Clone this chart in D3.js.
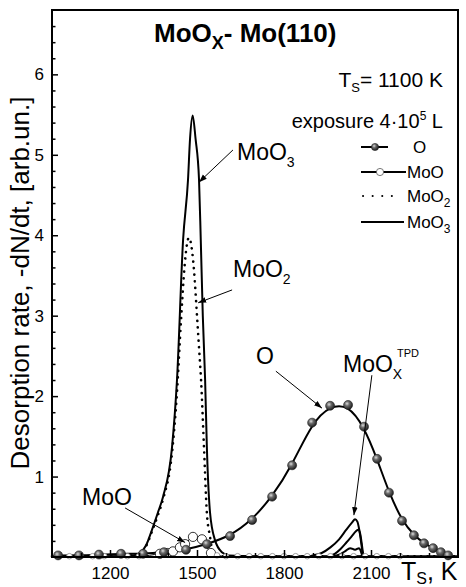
<!DOCTYPE html>
<html lang="en">
<head>
<meta charset="UTF-8">
<title>MoOx - Mo(110) desorption</title>
<script src="https://d3js.org/d3.v7.min.js"></script>
<style>
  body { margin: 0; background: #fff; }
  svg text { font-family: Arial, "Liberation Sans", sans-serif; fill: #000; }
  .tick text { font-size: 17px; }
  .tick line { stroke: #000; stroke-width: 1.5px; }
  .domain { display: none; }
</style>
</head>
<body>
<script>
// O (atomic oxygen) - markers and fit
const tempO = [1021, 1093, 1162, 1238, 1314, 1386, 1462, 1534, 1614, 1690, 1759, 1828, 1897, 1959, 2021, 2076, 2121, 2162, 2207, 2248, 2283, 2314, 2341, 2366];
const rateO = [0.02, 0.02, 0.03, 0.04, 0.04, 0.06, 0.09, 0.16, 0.26, 0.46, 0.75, 1.14, 1.67, 1.88, 1.89, 1.62, 1.22, 0.80, 0.45, 0.27, 0.17, 0.11, 0.06, 0.02];

// MoO - open circles
const tempMoO = [1060, 1100, 1140, 1180, 1260, 1300, 1372, 1397, 1417, 1441, 1459, 1486, 1517, 1548, 1569, 1600, 1640, 1680, 1720, 1760, 1800, 1840, 1880, 1920, 1960, 2000, 2040, 2080, 2120, 2160, 2200];
const rateMoO = [0.01, 0.01, 0.01, 0.01, 0.01, 0.01, 0.04, 0.05, 0.07, 0.12, 0.16, 0.25, 0.22, 0.05, 0.02, 0.01, 0.01, 0.01, 0.01, 0.01, 0.01, 0.01, 0.01, 0.01, 0.01, 0.01, 0.01, 0.01, 0.01, 0.01, 0.01];

// MoO2 - dotted
const tempMoO2 = [1000, 1200, 1280, 1303, 1325, 1345, 1365, 1383, 1414, 1431, 1445, 1458, 1466, 1472, 1480, 1490, 1500, 1507, 1514, 1524, 1534, 1545, 1555, 1570, 2400];
const rateMoO2 = [0.01, 0.01, 0.02, 0.05, 0.14, 0.32, 0.52, 0.72, 1.3, 2.05, 2.95, 3.65, 3.9, 3.97, 3.88, 3.55, 3.0, 2.6, 2.2, 1.37, 0.55, 0.25, 0.05, 0.01, 0.01];

// MoO3 - solid
const tempMoO3 = [1000, 1200, 1280, 1303, 1325, 1345, 1365, 1383, 1414, 1431, 1452, 1469, 1476, 1485, 1495, 1507, 1513, 1520, 1528, 1534, 1545, 1562, 1586, 1610, 1700, 2400];
const rateMoO3 = [0.01, 0.01, 0.02, 0.05, 0.15, 0.34, 0.55, 0.75, 1.37, 2.2, 3.94, 4.69, 5.2, 5.49, 5.2, 4.69, 3.94, 3.0, 2.2, 1.37, 0.55, 0.21, 0.06, 0.02, 0.01, 0.01];

// MoOx TPD - three curves
const tempTpd1 = [1880, 1900, 1930, 1960, 1990, 2015, 2035, 2045, 2053, 2060, 2066, 2071, 2076];
const rateTpd1 = [0.01, 0.02, 0.05, 0.12, 0.22, 0.34, 0.43, 0.47, 0.44, 0.33, 0.18, 0.05, 0.01];
const tempTpd2 = [1950, 1975, 1995, 2015, 2034, 2048, 2056, 2062, 2068, 2073, 2077];
const rateTpd2 = [0.01, 0.04, 0.10, 0.18, 0.26, 0.32, 0.34, 0.30, 0.17, 0.04, 0.01];
const tempTpd3 = [1960, 1990, 2010, 2028, 2045, 2059, 2065, 2070, 2074];
const rateTpd3 = [0.01, 0.03, 0.07, 0.11, 0.09, 0.11, 0.07, 0.02, 0.01];

const xTicks = [1200, 1500, 1800, 2100];
const yTicks = [1, 2, 3, 4, 5, 6];

const W = 466, H = 587;
const m = { left: 52, right: 8, top: 10, bottom: 30 };

const x = d3.scaleLinear().domain([1000, 2400]).range([m.left, W - m.right]);
const y = d3.scaleLinear().domain([0, 6.8]).range([H - m.bottom, m.top]);

const svg = d3.select("body").append("svg").attr("width", W).attr("height", H);

const defs = svg.append("defs");
const grad = defs.append("radialGradient").attr("id", "ball").attr("cx", "38%").attr("cy", "35%").attr("r", "65%");
grad.append("stop").attr("offset", "0%").attr("stop-color", "#dcdcdc");
grad.append("stop").attr("offset", "40%").attr("stop-color", "#6a6a6a");
grad.append("stop").attr("offset", "100%").attr("stop-color", "#1e1e1e");
defs.append("marker").attr("id", "arrow").attr("viewBox", "0 0 10 10")
  .attr("refX", 10).attr("refY", 5).attr("markerWidth", 8).attr("markerHeight", 8)
  .attr("markerUnits", "userSpaceOnUse").attr("orient", "auto")
  .append("path").attr("d", "M0,1.5 L10,5 L0,8.5 Z").attr("fill", "#000");

const zip = (a, b) => a.map((t, i) => [t, b[i]]);
const mono = d3.line().x(d => x(d[0])).y(d => y(d[1])).curve(d3.curveMonotoneX);
const basis = d3.line().x(d => x(d[0])).y(d => y(d[1])).curve(d3.curveBasis);

const plot = svg.append("g");

// curves
plot.append("path").attr("d", mono(zip(tempMoO3, rateMoO3)))
  .attr("fill", "none").attr("stroke", "#000").attr("stroke-width", 2);
plot.append("path").attr("d", mono(zip(tempMoO2, rateMoO2)))
  .attr("fill", "none").attr("stroke", "#000").attr("stroke-width", 2.6)
  .attr("stroke-dasharray", "0.1,6.5").attr("stroke-linecap", "round");
[[tempTpd1, rateTpd1], [tempTpd2, rateTpd2], [tempTpd3, rateTpd3]].forEach(([t, r]) => {
  plot.append("path").attr("d", mono(zip(t, r)))
    .attr("fill", "none").attr("stroke", "#000").attr("stroke-width", 2);
});
plot.append("path").attr("d", mono(zip(tempMoO, rateMoO)))
  .attr("fill", "none").attr("stroke", "#000").attr("stroke-width", 1);
plot.append("path").attr("d", basis(zip(tempO, rateO)))
  .attr("fill", "none").attr("stroke", "#000").attr("stroke-width", 2);

// markers
plot.selectAll("circle.moo").data(zip(tempMoO, rateMoO)).join("circle")
  .attr("class", "moo")
  .attr("cx", d => x(d[0])).attr("cy", d => y(d[1]))
  .attr("r", d => d[1] > 0.03 ? 4.6 : 2.8)
  .attr("fill", "#fff")
  .attr("stroke", d => d[1] > 0.03 ? "#000" : "#888")
  .attr("stroke-width", 0.8);
plot.selectAll("circle.o").data(zip(tempO, rateO)).join("circle")
  .attr("class", "o")
  .attr("cx", d => x(d[0])).attr("cy", d => y(d[1]))
  .attr("r", 4.5).attr("fill", "url(#ball)").attr("stroke", "#1e1e1e").attr("stroke-width", 0.6);

// axes
svg.append("g").attr("transform", `translate(${m.left},0)`)
  .call(d3.axisLeft(y).tickValues(yTicks).tickSize(-6).tickPadding(8).tickFormat(d3.format("d")));
svg.append("g").attr("transform", `translate(${m.left},0)`)
  .call(d3.axisLeft(y).tickValues(d3.range(0.2, 6.8, 0.2).filter(v => Math.abs(v - Math.round(v)) > 0.01))
    .tickSize(-3.5).tickFormat(""));
svg.append("g").attr("transform", `translate(0,${H - m.bottom})`)
  .call(d3.axisBottom(x).tickValues(xTicks).tickSize(-7).tickPadding(10).tickFormat(d3.format("d")));
svg.append("g").attr("transform", `translate(0,${H - m.bottom})`)
  .call(d3.axisBottom(x).tickValues(d3.range(1100, 2400, 100).filter(v => v % 300 !== 0))
    .tickSize(-4).tickFormat(""));

svg.append("rect").attr("x", m.left).attr("y", m.top)
  .attr("width", W - m.left - m.right).attr("height", H - m.top - m.bottom)
  .attr("fill", "none").attr("stroke", "#000").attr("stroke-width", 2);

// axis titles
svg.append("text").attr("transform", `translate(29,283) rotate(-90)`)
  .attr("text-anchor", "middle").attr("font-size", 26)
  .text("Desorption rate, -dN/dt, [arb.un.]");
const xt = svg.append("text").attr("x", 401).attr("y", 580).attr("font-size", 25);
xt.append("tspan").text("T");
xt.append("tspan").attr("font-size", 16).attr("dy", 4).text("S");
xt.append("tspan").attr("dy", -4).text(", K");

// title
const ti = svg.append("text").attr("x", 154).attr("y", 42).attr("font-size", 26).attr("font-weight", "bold");
ti.append("tspan").text("MoO");
ti.append("tspan").attr("font-size", 18).attr("dy", 7).text("X");
ti.append("tspan").attr("dy", -7).text("- Mo(110)");

// conditions
const c1 = svg.append("text").attr("x", 443).attr("y", 87).attr("text-anchor", "end").attr("font-size", 21);
c1.append("tspan").text("T");
c1.append("tspan").attr("font-size", 13).attr("dy", 5).text("S");
c1.append("tspan").attr("dy", -5).text("= 1100 K");
const c2 = svg.append("text").attr("x", 443).attr("y", 128).attr("text-anchor", "end").attr("font-size", 20);
c2.append("tspan").text("exposure 4\u00B710");
c2.append("tspan").attr("font-size", 12).attr("dy", -8).text("5");
c2.append("tspan").attr("dy", 8).text(" L");

// legend
const lg = svg.append("g");
const legRows = [
  { y: 147, label: ["O"], kind: "o" },
  { y: 172, label: ["MoO"], kind: "moo" },
  { y: 196, label: ["MoO", "2"], kind: "moo2" },
  { y: 222, label: ["MoO", "3"], kind: "moo3" }
];
legRows.forEach(r => {
  if (r.kind === "o") {
    lg.append("line").attr("x1", 361).attr("x2", 388).attr("y1", r.y).attr("y2", r.y).attr("stroke", "#000").attr("stroke-width", 2);
    lg.append("circle").attr("cx", 375).attr("cy", r.y).attr("r", 3.6).attr("fill", "url(#ball)").attr("stroke", "#222").attr("stroke-width", 0.6);
  } else if (r.kind === "moo") {
    lg.append("line").attr("x1", 361).attr("x2", 406).attr("y1", r.y).attr("y2", r.y).attr("stroke", "#000").attr("stroke-width", 2);
    lg.append("circle").attr("cx", 380).attr("cy", r.y).attr("r", 3.6).attr("fill", "#fff").attr("stroke", "#555").attr("stroke-width", 0.8);
  } else if (r.kind === "moo2") {
    lg.append("line").attr("x1", 363).attr("x2", 398).attr("y1", r.y).attr("y2", r.y).attr("stroke", "#000").attr("stroke-width", 2)
      .attr("stroke-dasharray", "0.1,9.5").attr("stroke-linecap", "round");
  } else {
    lg.append("line").attr("x1", 361).attr("x2", 404).attr("y1", r.y).attr("y2", r.y).attr("stroke", "#000").attr("stroke-width", 2);
  }
  const t = lg.append("text").attr("x", r.kind === "o" ? 413 : 407).attr("y", r.y + 6).attr("font-size", 17);
  t.append("tspan").text(r.label[0]);
  if (r.label[1]) t.append("tspan").attr("font-size", 12).attr("dy", 5).text(r.label[1]);
});

// annotations: label text, label position (px baseline), arrow tail/tip in data units
const notes = [
  { main: "MoO", sub: "3", lx: 237, ly: 160, from: [1624, 5.06], to: [1507, 4.66] },
  { main: "MoO", sub: "2", lx: 233, ly: 277, from: [1621, 3.32], to: [1504, 3.16] },
  { main: "O", lx: 256, ly: 364, from: [1772, 2.31], to: [1931, 1.85] },
  { main: "MoO", sub: "X", sup: "TPD", lx: 343, ly: 372, from: [2103, 2.26], to: [2041, 0.52] },
  { main: "MoO", lx: 82, ly: 505, from: [1252, 0.61], to: [1459, 0.18] }
];
notes.forEach(n => {
  svg.append("line").attr("x1", x(n.from[0])).attr("y1", y(n.from[1]))
    .attr("x2", x(n.to[0])).attr("y2", y(n.to[1]))
    .attr("stroke", "#000").attr("stroke-width", 1).attr("marker-end", "url(#arrow)");
  const t = svg.append("text").attr("x", n.lx).attr("y", n.ly).attr("font-size", 23);
  t.append("tspan").text(n.main);
  if (n.sub) t.append("tspan").attr("font-size", 14).attr("dy", 7).text(n.sub);
  if (n.sup) t.append("tspan").attr("font-size", 11).attr("x", n.lx + 54).attr("dy", -22).text(n.sup);
});
</script>
</body>
</html>
